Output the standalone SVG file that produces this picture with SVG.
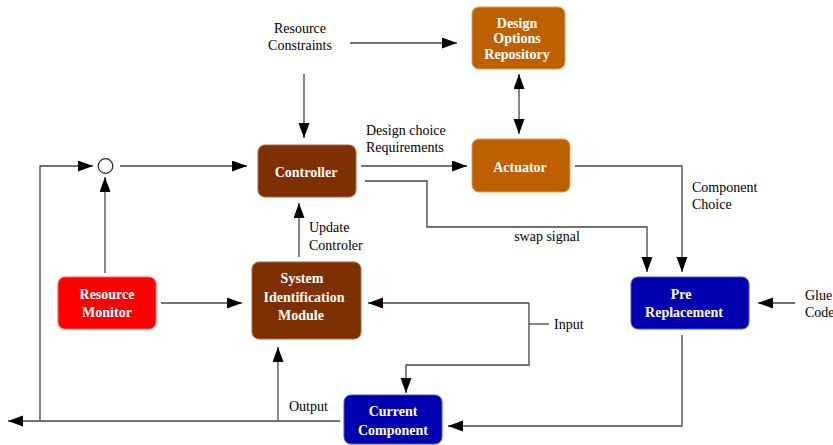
<svg xmlns="http://www.w3.org/2000/svg" width="833" height="445" viewBox="0 0 833 445">
<style>
.box{stroke-width:1}
.brown{fill:#7f3000;stroke:#a8683f}
.orange{fill:#bf6000;stroke:#d89a5a}
.red{fill:#ff0000;stroke:#ff6060}
.blue{fill:#0000b0;stroke:#5050d0}
.nt{font-family:"Liberation Serif",serif;font-weight:bold;font-size:14px;fill:#ffffff;text-anchor:middle}
.lb{font-family:"Liberation Serif",serif;font-size:14px;fill:#000000}
.ln{fill:none;stroke:#444444;stroke-width:1.3}
.ar{marker-end:url(#ah)}
</style>
<defs>
<marker id="ah" markerUnits="userSpaceOnUse" markerWidth="16" markerHeight="12" refX="15" refY="5.5" orient="auto-start-reverse" viewBox="0 0 16 12">
<path d="M0,0 L15,5.5 L0,11 z" fill="#000000"/>
</marker>
</defs>
<rect width="833" height="445" fill="#ffffff"/>
<g id="connectors">
<path class="ln ar" d="M350,43 H457"/>
<path class="ln ar" d="M304,74 V138"/>
<path class="ln ar" d="M120,166 H247"/>
<path class="ln ar" d="M40,421 V166 H93"/>
<path class="ln ar" d="M105,273 V177"/>
<path class="ln ar" d="M361,166 H467"/>
<path class="ln ar" d="M365,181 H427 V227 H647 V272"/>
<path class="ln ar" d="M575,166 H682 V272"/>
<path class="ln ar" d="M519,74 V134" marker-start="url(#ah)"/>
<path class="ln ar" d="M299,257 V203"/>
<path class="ln ar" d="M161,303 H242"/>
<path class="ln ar" d="M529,303 H368"/>
<path class="ln ar" d="M529,303 V365 H406 V393"/>
<path class="ln" d="M529,324 H549"/>
<path class="ln ar" d="M340,421 H8"/>
<path class="ln ar" d="M278,421 V347"/>
<path class="ln ar" d="M682,335 V426 H448"/>
<path class="ln ar" d="M795,303 H758"/>
<circle cx="105.5" cy="166" r="7.3" fill="#ffffff" stroke="#222222" stroke-width="1.2"/>
</g>
<g id="labels">
<text class="lb" x="300" y="33" text-anchor="middle">Resource</text>
<text class="lb" x="300" y="50" text-anchor="middle">Constraints</text>
<text class="lb" x="366" y="134.5">Design choice</text>
<text class="lb" x="366" y="151.5">Requirements</text>
<text class="lb" x="692" y="191.5">Component</text>
<text class="lb" x="692" y="208.5">Choice</text>
<text class="lb" x="547" y="241" text-anchor="middle">swap signal</text>
<text class="lb" x="309" y="231.5">Update</text>
<text class="lb" x="309" y="249.5">Controler</text>
<text class="lb" x="554" y="328.5">Input</text>
<text class="lb" x="289" y="410.5">Output</text>
<text class="lb" x="805" y="299.5">Glue</text>
<text class="lb" x="805" y="316.5">Code</text>
</g>
<g id="design-options-repository">
<rect class="box orange" x="472" y="7" width="93" height="62" rx="7"/>
<text class="nt" x="517" y="27.5">Design</text>
<text class="nt" x="517" y="43">Options</text>
<text class="nt" x="517" y="58.5">Repository</text>
</g>
<g id="controller">
<rect class="box brown" x="258" y="145" width="98" height="52" rx="7"/>
<text class="nt" x="306" y="176.5">Controller</text>
</g>
<g id="actuator">
<rect class="box orange" x="472" y="139" width="98" height="53" rx="7"/>
<text class="nt" x="520" y="171.5">Actuator</text>
</g>
<g id="resource-monitor">
<rect class="box red" x="58" y="277" width="98" height="52" rx="7"/>
<text class="nt" x="107" y="298.5">Resource</text>
<text class="nt" x="107" y="317">Monitor</text>
</g>
<g id="system-identification-module">
<rect class="box brown" x="252" y="262" width="109" height="77" rx="7"/>
<text class="nt" x="302" y="283">System</text>
<text class="nt" x="304" y="302">Identification</text>
<text class="nt" x="301" y="320">Module</text>
</g>
<g id="pre-replacement">
<rect class="box blue" x="631" y="277" width="118" height="52" rx="7"/>
<text class="nt" x="681" y="298.5">Pre</text>
<text class="nt" x="684" y="317">Replacement</text>
</g>
<g id="current-component">
<rect class="box blue" x="344" y="395" width="98" height="49" rx="7"/>
<text class="nt" x="393" y="416">Current</text>
<text class="nt" x="393" y="435">Component</text>
</g>
</svg>
